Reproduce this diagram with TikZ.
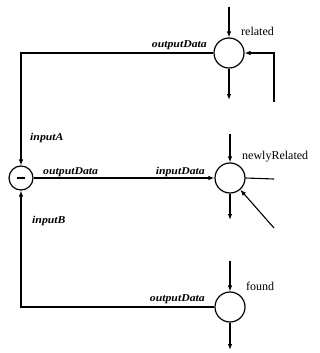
\documentclass[tikz,border=0pt]{standalone}
\usepackage{fontspec}
\setmainfont{Liberation Serif}
\newfontfamily\portfont[FakeStretch=1.12]{Liberation Serif}
\usetikzlibrary{arrows.meta}
\tikzset{
  wire/.style={line width=1.1pt},
  flow/.style={wire, -{Latex[length=6pt,width=4.5pt]}},
  proc/.style={draw, circle, line width=1.2pt, minimum size=30pt, inner sep=0pt},
  minusop/.style={proc, minimum size=24pt},
  port/.style={font=\portfont\fontsize{10.5}{12}\selectfont\bfseries\itshape, inner sep=0pt},
  pname/.style={font=\fontsize{12}{14}\selectfont, inner sep=0pt, anchor=west}
}
\begin{document}
\begin{tikzpicture}[x=1pt, y=-1pt]
  \useasboundingbox (0,0) rectangle (320,353);

  % processes
  \node[proc] (rel) at (229,53) {};
  \node[proc] (new) at (230,178) {};
  \node[proc] (fnd) at (230,307) {};
  \node[minusop] (minus) at (21,178) {};
  \draw[line width=1.3pt] ([xshift=-4pt]minus.center) -- ([xshift=4pt]minus.center);

  % process names
  \node[pname] (relname) at (241,31) {related};
  \node[pname] (newname) at (242,157) {newlyRelated};
  \node[pname] (fndname) at (246,286) {found};

  % free ends of the wires
  \coordinate (relin) at (229,7);
  \coordinate (relout) at (229,100);
  \coordinate (relfb) at (274,102);
  \coordinate (newin) at (230,134);
  \coordinate (newout) at (230,220);
  \coordinate (newright) at (274,179);
  \coordinate (newdiag) at (274,228);
  \coordinate (fndin) at (230,261);
  \coordinate (fndout) at (230,350);

  % related
  \draw[flow] (relin) -- (rel.north);
  \draw[flow] (rel.south) -- (relout);
  \draw[flow] (relfb) |- (rel.east);
  \draw[flow] (rel.west) -| (minus.north);

  % newlyRelated
  \draw[flow] (newin) -- (new.north);
  \draw[flow] (new.south) -- (newout);
  \draw[wire] (new.east) -- (newright);
  \draw[flow] (newdiag) -- (new);
  \draw[flow] (minus.east) -- (new.west);

  % found
  \draw[flow] (fndin) -- (fnd.north);
  \draw[flow] (fnd.south) -- (fndout);
  \draw[flow] (fnd.west) -| (minus.south);

  % port labels
  \node[port, anchor=south east] (p1) at (207,50) {outputData};
  \node[port, anchor=west] (p2) at (30,138) {inputA};
  \node[port, anchor=west] (p3) at (32,221) {inputB};
  \node[port, anchor=south west] (p4) at (43,177) {outputData};
  \node[port, anchor=south east] (p5) at (205,177) {inputData};
  \node[port, anchor=south east] (p6) at (205,304) {outputData};
\end{tikzpicture}
\end{document}
